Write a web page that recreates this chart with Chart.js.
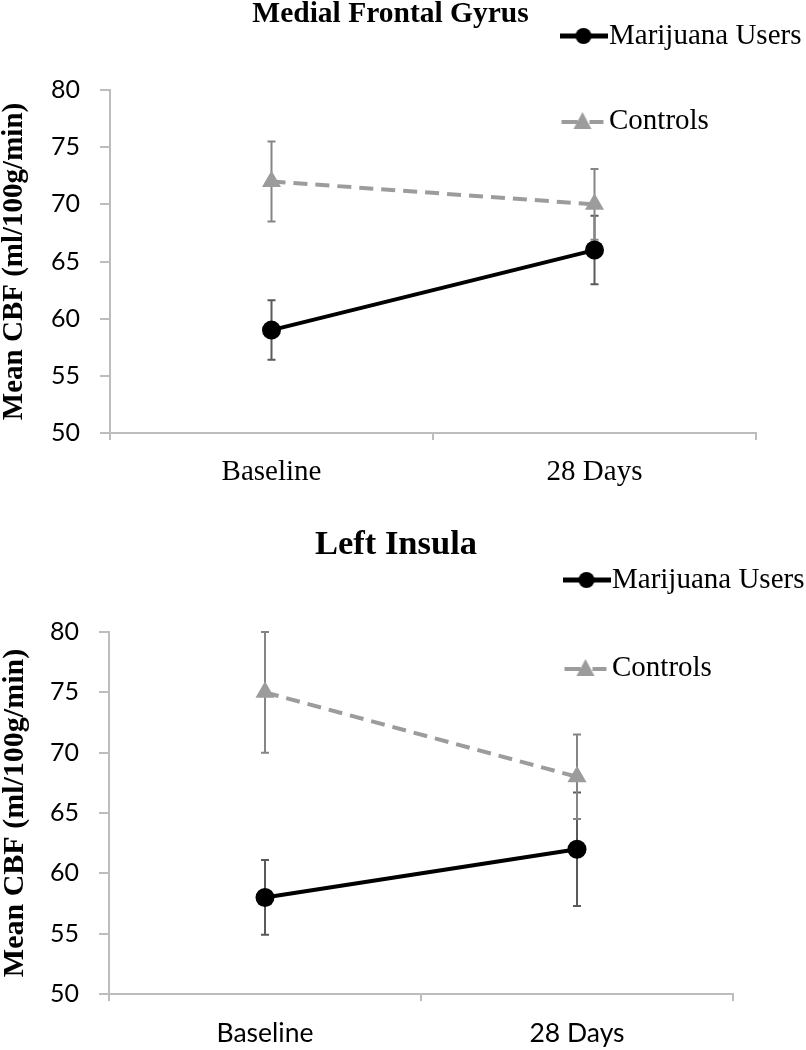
<!DOCTYPE html>
<html lang="en">
<head>
  <meta charset="UTF-8">
  <title>Mean CBF - Medial Frontal Gyrus / Left Insula</title>
  <script src="https://cdn.jsdelivr.net/npm/chart.js"></script>
  <style>
    html, body { margin: 0; padding: 0; background: #fff; }
    .panel { position: absolute; left: 0; }
    #topPanel { top: 0; }
    #bottomPanel { top: 520px; }
  </style>
</head>
<body>
<div class="panel" id="topPanel"><canvas id="mfgChart" width="806" height="520"></canvas></div>
<div class="panel" id="bottomPanel"><canvas id="insulaChart" width="806" height="530"></canvas></div>

<script>
  const timepoints = ['Baseline', '28 Days'];
  const yTicks = [50, 55, 60, 65, 70, 75, 80];
  const seriesNames = ['Marijuana Users', 'Controls'];

  // Medial Frontal Gyrus
  const mfgUsers = [59, 66];
  const mfgUsersErr = [2.6, 3.0];
  const mfgControls = [72, 70];
  const mfgControlsErr = [3.5, 3.1];

  // Left Insula
  const insUsers = [58, 62];
  const insUsersErr = [3.1, 4.7];
  const insControls = [75, 68];
  const insControlsErr = [5, 3.5];

  const SERIF = '"Liberation Serif", "Times New Roman", serif';
  const SANS = 'Lato, "Open Sans", sans-serif';
  const AXIS = '#bdbdbd';

  // small line+marker icons for the legend
  function legendIcon(kind) {
    const c = document.createElement('canvas');
    c.width = 48; c.height = 22;
    const g = c.getContext('2d');
    if (kind === 'circle') {
      g.strokeStyle = '#000'; g.fillStyle = '#000'; g.lineWidth = 5;
      g.beginPath(); g.moveTo(0, 11); g.lineTo(48, 11); g.stroke();
      g.beginPath(); g.arc(24, 11, 8, 0, Math.PI * 2); g.fill();
    } else {
      g.strokeStyle = '#9c9c9c'; g.fillStyle = '#9c9c9c'; g.lineWidth = 4;
      g.beginPath(); g.moveTo(2, 12); g.lineTo(18, 12); g.moveTo(30, 12); g.lineTo(44, 12); g.stroke();
      g.beginPath(); g.moveTo(23, 2); g.lineTo(32, 19); g.lineTo(14, 19); g.closePath(); g.fill();
    }
    return c;
  }

  // vertical error bars with caps, from each dataset's "errors" array
  const errorBars = {
    id: 'errorBars',
    beforeDatasetsDraw(chart) {
      const ctx = chart.ctx;
      const y = chart.scales.y;
      chart.data.datasets.forEach((ds, i) => {
        const meta = chart.getDatasetMeta(i);
        ctx.save();
        ctx.strokeStyle = ds.errorColor;
        ctx.lineWidth = 2;
        meta.data.forEach((pt, j) => {
          const hi = y.getPixelForValue(ds.data[j] + ds.errors[j]);
          const lo = y.getPixelForValue(ds.data[j] - ds.errors[j]);
          ctx.beginPath();
          ctx.moveTo(pt.x, hi); ctx.lineTo(pt.x, lo);
          ctx.moveTo(pt.x - 4, hi); ctx.lineTo(pt.x + 4, hi);
          ctx.moveTo(pt.x - 4, lo); ctx.lineTo(pt.x + 4, lo);
          ctx.stroke();
        });
        ctx.restore();
      });
    }
  };

  // put the legend in the top right corner, over the plot, and nudge the title
  const placeLegend = {
    id: 'placeLegend',
    afterLayout(chart, args, opts) {
      const lg = chart.legend;
      lg.left = opts.left; lg.top = opts.top;
      lg.width = chart.width - opts.left; lg.height = 300;
      lg.right = lg.left + lg.width; lg.bottom = lg.top + lg.height;
      const t = chart.titleBlock;
      if (t) { t.left += opts.titleShift; t.right += opts.titleShift; }
    }
  };

  function makeChart(id, cfg) {
    return new Chart(document.getElementById(id), {
      type: 'line',
      data: {
        labels: timepoints,
        datasets: [
          {
            label: seriesNames[0],
            data: cfg.users,
            errors: cfg.usersErr,
            errorColor: '#5a5a5a',
            borderColor: '#000',
            backgroundColor: '#000',
            borderWidth: 4,
            tension: 0,
            pointStyle: 'circle',
            pointRadius: 9.5,
            pointBackgroundColor: '#000',
            pointBorderWidth: 0,
            legendIcon: legendIcon('circle')
          },
          {
            label: seriesNames[1],
            data: cfg.controls,
            errors: cfg.controlsErr,
            errorColor: '#858585',
            borderColor: '#9c9c9c',
            backgroundColor: '#9c9c9c',
            borderWidth: 4,
            borderDash: [14, 8],
            tension: 0,
            pointStyle: 'triangle',
            pointRadius: 11,
            pointBackgroundColor: '#9c9c9c',
            pointBorderWidth: 0,
            legendIcon: legendIcon('triangle')
          }
        ]
      },
      options: {
        responsive: false,
        animation: false,
        events: [],
        layout: { padding: { left: 0, right: cfg.rightPad, top: 0, bottom: 0 } },
        scales: {
          x: {
            type: 'category',
            offset: true,
            grid: { offset: true, drawOnChartArea: false, drawTicks: true, tickLength: 7, color: AXIS, lineWidth: 2 },
            border: { color: AXIS, width: 2 },
            ticks: { color: '#000', padding: cfg.xPad, font: { family: cfg.xFont, size: cfg.xSize, lineHeight: 1 } },
            afterFit: s => { s.height = cfg.xHeight; }
          },
          y: {
            min: yTicks[0],
            max: yTicks[yTicks.length - 1],
            afterBuildTicks: s => { s.ticks = yTicks.map(v => ({ value: v })); },
            grid: { drawOnChartArea: false, drawTicks: true, tickLength: 10, color: AXIS, lineWidth: 2 },
            border: { color: AXIS, width: 2 },
            ticks: { color: '#000', padding: 20, font: { family: SANS, size: 25 } },
            title: {
              display: true,
              text: 'Mean CBF (ml/100g/min)',
              color: '#000',
              padding: { top: 0.5, bottom: 0 },
              font: { family: SERIF, size: cfg.yTitleSize, weight: 'bold', lineHeight: 1 }
            },
            afterFit: s => { s.width = cfg.yWidth; }
          }
        },
        plugins: {
          title: {
            display: true,
            text: cfg.title,
            color: '#000',
            padding: { top: cfg.titleTop, bottom: cfg.titleBottom },
            font: { family: SERIF, size: cfg.titleSize, weight: 'bold', lineHeight: 1 }
          },
          legend: {
            position: 'chartArea',
            align: 'start',
            labels: {
              color: '#000',
              usePointStyle: true,
              pointStyleWidth: 22,
              padding: cfg.legendGap,
              font: { family: SERIF, size: 29, lineHeight: 1 },
              generateLabels: chart => chart.data.datasets.map((ds, i) => ({
                text: ds.label,
                pointStyle: ds.legendIcon,
                fillStyle: ds.borderColor,
                strokeStyle: ds.borderColor,
                fontColor: '#000',
                lineWidth: 0,
                hidden: false,
                datasetIndex: i
              }))
            }
          },
          tooltip: { enabled: false },
          placeLegend: { left: 516.5, top: cfg.legendTop, titleShift: cfg.titleShift }
        }
      },
      plugins: [errorBars, placeLegend]
    });
  }

  makeChart('mfgChart', {
    title: 'Medial Frontal Gyrus',
    users: mfgUsers, usersErr: mfgUsersErr,
    controls: mfgControls, controlsErr: mfgControlsErr,
    titleSize: 29.5, titleTop: 0, titleBottom: 60.5, titleShift: 12.5,
    rightPad: 50, yWidth: 110, xHeight: 87,
    xFont: SERIF, xSize: 29, xPad: 17.5,
    yTitleSize: 29,
    legendGap: 56, legendTop: -34.5
  });

  makeChart('insulaChart', {
    title: 'Left Insula',
    users: insUsers, usersErr: insUsersErr,
    controls: insControls, controlsErr: insControlsErr,
    titleSize: 34.5, titleTop: 8, titleBottom: 69.5, titleShift: 29.5,
    rightPad: 73, yWidth: 109, xHeight: 56,
    xFont: SANS, xSize: 26.5, xPad: 19.5,
    yTitleSize: 30,
    legendGap: 59, legendTop: -13.5
  });
</script>
</body>
</html>
